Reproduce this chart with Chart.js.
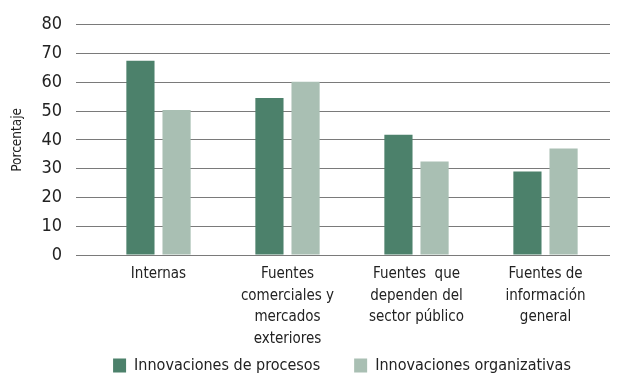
<!DOCTYPE html>
<html>
<head>
<meta charset="utf-8">
<script src="https://cdn.jsdelivr.net/npm/chart.js@4.4.1/dist/chart.umd.min.js"></script>
<style>
html,body{margin:0;padding:0;background:#fff;}
#wrap{width:622px;height:380px;position:relative;}
</style>
</head>
<body>
<div id="wrap"><canvas id="c" width="622" height="380"></canvas></div>
<script>
const categories = [
  ["Internas"],
  ["Fuentes", "comerciales y", "mercados", "exteriores"],
  ["Fuentes  que", "dependen del", "sector público"],
  ["Fuentes de", "información", "general"]
];
const seriesNames = ["Innovaciones de procesos", "Innovaciones organizativas"];
const procesos = [67.5, 54.6, 41.8, 29.0];
const organizativas = [50.4, 60.2, 32.5, 37.0];
const yTicks = [0, 10, 20, 30, 40, 50, 60, 70, 80];

const FONT = "'Liberation Sans Narrow', 'DejaVu Sans Condensed', sans-serif";
const darkGreen = "#4c816b";
const lightGreen = "#a9bfb3";

const LEGEND_PAD = 34;
const legendPlace = {
  id: 'legendPlace',
  afterLayout(chart) {
    const l = chart.legend;
    if (l) {
      const dx = 37;
      l.left += dx; l.right += dx;
      const h = l.bottom - l.top;
      const newTop = 365.5 - LEGEND_PAD - 8;
      l.top = newTop; l.bottom = newTop + h;
    }
    const x = chart.scales.x;
    x.bottom = 352;
    x.height = x.bottom - x.top;
  }
};

new Chart(document.getElementById('c'), {
  type: 'bar',
  data: {
    labels: categories,
    datasets: [
      { label: seriesNames[0], data: procesos, backgroundColor: darkGreen, borderWidth: 0,
        barPercentage: 0.78, categoryPercentage: 0.56 },
      { label: seriesNames[1], data: organizativas, backgroundColor: lightGreen, borderWidth: 0,
        barPercentage: 0.78, categoryPercentage: 0.56 }
    ]
  },
  options: {
    responsive: false,
    animation: false,
    devicePixelRatio: 1,
    layout: { padding: { left: 0, right: 12, top: 24, bottom: 0 } },
    plugins: {
      tooltip: { enabled: false },
      legend: {
        position: 'bottom',
        labels: {
          font: { family: FONT, size: 16 },
          color: '#222',
          boxWidth: 13,
          boxHeight: 14,
          padding: LEGEND_PAD,
          useBorderRadius: false
        }
      }
    },
    scales: {
      x: {
        grid: { display: false, drawTicks: false },
        border: { display: false },
        ticks: {
          font: { family: FONT, size: 15, lineHeight: 1.45 },
          color: '#222',
          padding: 8,
          maxRotation: 0,
          autoSkip: false
        },
        afterFit: function(scale) {
          scale.height = 380 - 255 - (16 + LEGEND_PAD + 10);
        }
      },
      y: {
        min: 0,
        max: 80,
        afterBuildTicks: function(scale) { scale.ticks = yTicks.map(v => ({ value: v })); },
        grid: { color: '#7a7a7a', lineWidth: 1, drawTicks: true, tickLength: 18, tickColor: '#7a7a7a' },
        border: { display: false },
        ticks: {
          font: { family: FONT, size: 18 },
          color: '#222',
          padding: 14
        },
        title: {
          display: true,
          text: 'Porcentaje',
          font: { family: FONT, size: 13.5 },
          color: '#222',
          padding: { top: 9, bottom: 0 }
        },
        afterFit: function(scale) { scale.width = 94; }
      }
    }
  },
  plugins: [legendPlace]
});
</script>
</body>
</html>
